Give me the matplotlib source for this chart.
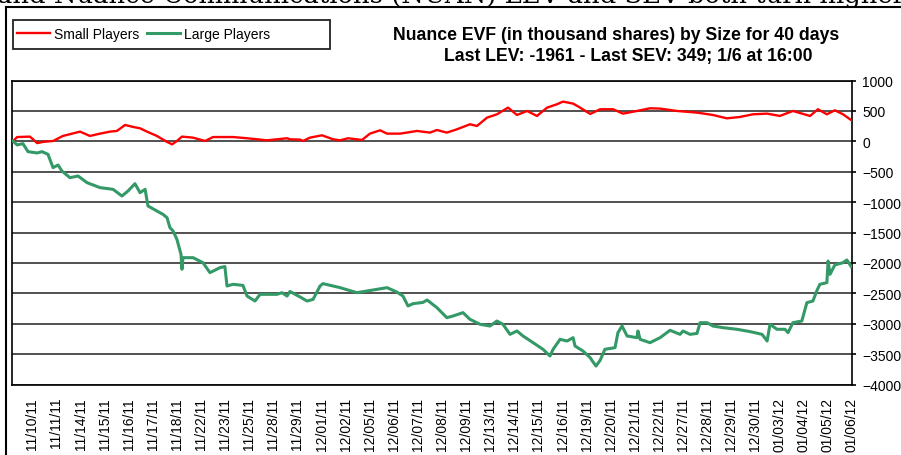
import matplotlib.pyplot as plt
from matplotlib.lines import Line2D
from matplotlib.patches import Rectangle

plt.rcParams['font.family'] = ['Liberation Sans', 'DejaVu Sans']

# x labels (one per trading day shown on the axis)
day_labels = ["11/10/11", "11/11/11", "11/14/11", "11/15/11", "11/16/11", "11/17/11", "11/18/11",
              "11/22/11", "11/23/11", "11/25/11", "11/28/11", "11/29/11", "12/01/11", "12/02/11",
              "12/05/11", "12/06/11", "12/07/11", "12/08/11", "12/09/11", "12/13/11", "12/14/11",
              "12/15/11", "12/16/11", "12/19/11", "12/20/11", "12/21/11", "12/22/11", "12/27/11",
              "12/28/11", "12/29/11", "12/30/11", "01/03/12", "01/04/12", "01/05/12", "01/06/12"]

# time position in label units, and EVF values (thousand shares)
small_t = [-0.80, -0.63, -0.10, 0.03, 0.20, 0.44, 0.86, 1.27, 1.98, 2.39, 2.81, 3.22, 3.51, 3.85,
           4.18, 4.47, 4.76, 5.17, 5.59, 5.80, 6.00, 6.21, 6.67, 7.17, 7.50, 8.33, 8.91, 9.74,
           10.57, 10.69, 11.11, 11.23, 11.52, 12.02, 12.48, 12.77, 13.10, 13.68, 14.01, 14.43,
           14.72, 15.26, 15.96, 16.50, 16.79, 17.20, 17.62, 18.16, 18.45, 18.87, 19.28, 19.74,
           20.11, 20.53, 20.94, 21.36, 21.77, 22.02, 22.44, 22.73, 23.15, 23.56, 24.10, 24.51,
           25.09, 25.63, 26.05, 26.75, 27.58, 28.24, 28.82, 29.36, 29.90, 30.49, 31.02, 31.56,
           32.27, 32.60, 32.97, 33.30, 33.64, 33.98]
small_v = [0, 70, 77, 33, -30, -10, 5, 88, 159, 88, 126, 159, 170, 269,
           236, 214, 159, 88, -10, -50, 5, 77, 60, 5, 70, 70, 50, 16,
           50, 33, 28, 5, 60, 99, 33, 16, 50, 22, 126, 181,
           126, 126, 170, 143, 186, 143, 197, 280, 252, 390, 444, 554,
           433, 499, 417, 554, 609, 653, 620, 554, 450, 527, 527, 455,
           499, 543, 538, 499, 472, 433, 378, 400, 444, 455, 417, 499,
           417, 527, 444, 510, 444, 349]

large_t = [-0.80, -0.63, -0.39, -0.18, 0.20, 0.40, 0.65, 0.86, 1.07, 1.23, 1.56, 1.90, 2.27, 2.81,
           3.35, 3.72, 3.97, 4.26, 4.47, 4.68, 4.80, 5.17, 5.42, 5.59, 5.71, 5.84, 6.00, 6.17,
           6.21, 6.25, 6.67, 7.08, 7.37, 7.79, 7.99, 8.08, 8.33, 8.74, 8.91, 9.24, 9.45, 10.15,
           10.36, 10.57, 10.69, 11.11, 11.40, 11.65, 11.94, 12.06, 12.77, 13.47, 13.89, 14.30,
           14.72, 15.13, 15.38, 15.59, 15.80, 16.21, 16.38, 16.79, 17.20, 17.46, 17.87, 18.16,
           18.58, 18.99, 19.28, 19.53, 19.82, 20.11, 20.36, 20.78, 21.19, 21.48, 21.61, 21.90,
           22.19, 22.44, 22.52, 22.85, 23.15, 23.22, 23.39, 23.56, 23.76, 24.18, 24.30, 24.47,
           24.68, 25.09, 25.13, 25.22, 25.63, 26.05, 26.46, 26.88, 27.00, 27.29, 27.58, 27.71,
           28.00, 28.24, 28.66, 29.24, 29.78, 30.28, 30.49, 30.61, 30.90, 31.23, 31.36, 31.56,
           31.93, 32.14, 32.39, 32.56, 32.68, 32.97, 33.02, 33.10, 33.30, 33.64, 33.80, 33.98]
large_v = [5, -60, -38, -170, -192, -170, -214, -433, -390, -489, -598, -571, -680, -762,
           -790, -900, -818, -697, -845, -790, -1064, -1146, -1201, -1256, -1420, -1475, -1612, -1859,
           -2105, -1914, -1914, -1996, -2160, -2078, -2060, -2380, -2352, -2370, -2545, -2627, -2517, -2517,
           -2490, -2545, -2470, -2560, -2627, -2600, -2380, -2341, -2407, -2490, -2462, -2435,
           -2407, -2480, -2545, -2709, -2670, -2650, -2610, -2736, -2901, -2873, -2818, -2928,
           -3010, -3038, -2956, -3010, -3175, -3120, -3202, -3312, -3421, -3531, -3421, -3257,
           -3285, -3230, -3367, -3449, -3560, -3603, -3696, -3603, -3421, -3394, -3147, -3038,
           -3202, -3230, -3120, -3257, -3312, -3230, -3109, -3175, -3120, -3175, -3160, -2983,
           -2983, -3038, -3065, -3092, -3130, -3175, -3285, -3010, -3092, -3092, -3147, -2983,
           -2956, -2654, -2627, -2451, -2352, -2325, -1969, -2188, -2034, -1996, -1952, -2060]

W, H = 901, 456
fig = plt.figure(figsize=(W / 100, H / 100), dpi=100)
ax = fig.add_axes([12.3 / W, 1 - 385.5 / H, (851.7 - 12.3) / W, (385.5 - 81.5) / H])

red, = ax.plot(small_t, small_v, color='#ff0000', lw=1.7, zorder=3, label='Small Players')
green, = ax.plot(large_t, large_v, color='#339966', lw=2.2, zorder=3, label='Large Players')

ax.set_ylim(-4000, 1000)
ax.set_xlim(-0.83, 34.0)
ax.set_yticks(range(-4000, 1001, 500))
ax.yaxis.tick_right()
ax.tick_params(axis='y', direction='out', length=3, width=1.2, labelsize=10, pad=4.5)
ax.set_xticks(range(len(day_labels)))
ax.set_xticklabels(day_labels, rotation=90)
ax.tick_params(axis='x', length=0, labelsize=10, pad=9)
ax.grid(axis='y', color='#333333', lw=1.2)
for s in ax.spines.values():
    s.set_linewidth(1.2)

# titles
fig.text(616 / W, 1 - 35 / H, "Nuance EVF (in thousand shares) by Size for 40 days",
         ha='center', va='center', fontsize=12.7, fontweight='bold')
fig.text(628 / W, 1 - 57 / H, "Last LEV: -1961 - Last SEV: 349; 1/6 at 16:00",
         ha='center', va='center', fontsize=12.7, fontweight='bold')

# headline above the chart, cut off by the top edge
fig.text(-3 / W, 1 - 3 / H, "and Nuance Communications (NUAN) LEV and SEV both turn higher",
         ha='left', va='baseline', fontsize=18.6, family='DejaVu Serif')

# legend box
fig.legend(handles=[red, green], loc='center left', bbox_to_anchor=(17 / W, 1 - 35 / H),
           ncol=2, frameon=False, fontsize=10, handlelength=2.4, handletextpad=0.3,
           columnspacing=0.5, borderpad=0, borderaxespad=0)
fig.add_artist(Rectangle((13.3 / W, 1 - 50 / H), (330 - 13.3) / W, 29.3 / H,
                         transform=fig.transFigure, fill=False, ec='#222222', lw=1.3))

# chart object border
fig.add_artist(Line2D([5.5 / W, 5.5 / W], [0, 1 - 8.3 / H], color='black', lw=1.5))
fig.add_artist(Line2D([5.5 / W, 1], [1 - 8.3 / H, 1 - 8.3 / H], color='black', lw=1.5))

fig.savefig('out.png', dpi=100)
